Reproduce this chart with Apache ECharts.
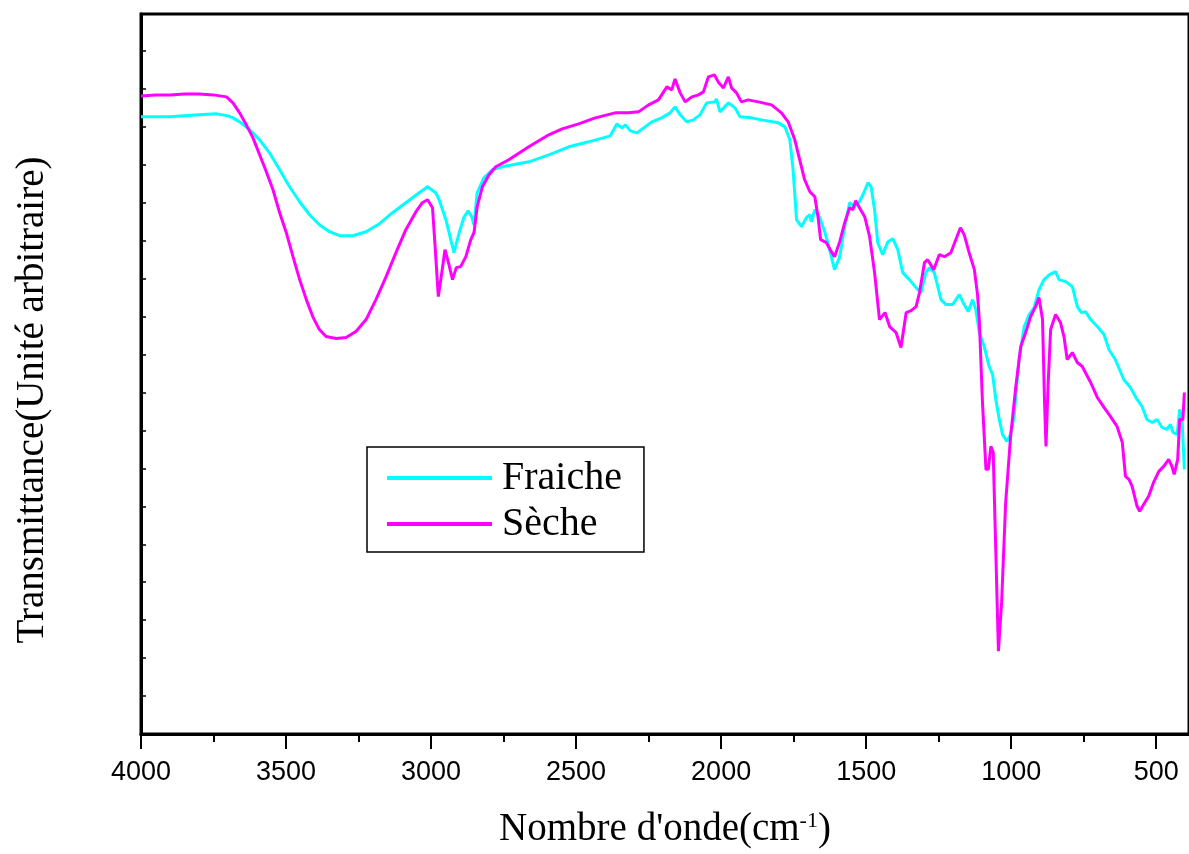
<!DOCTYPE html>
<html>
<head>
<meta charset="utf-8">
<script src="https://cdn.jsdelivr.net/npm/echarts@6/dist/echarts.min.js"></script>
<style>
  html, body { margin: 0; padding: 0; background: #fff; }
  #chart { width: 1189px; height: 854px; }
</style>
</head>
<body>
<div id="chart"></div>
<script>
// ticks de l'axe des nombres d'onde
var majorTicks = [4000, 3500, 3000, 2500, 2000, 1500, 1000, 500];
var minorTicks = [3750, 3250, 2750, 2250, 1750, 1250, 750];

// Fraiche : nombre d'onde (cm-1) / transmittance (u.a.)
var fraicheWn = [4000, 3950, 3900, 3850, 3800, 3739, 3700, 3683, 3660, 3625, 3591, 3557, 3522, 3488, 3453, 3419, 3385, 3350, 3316, 3270,
  3224, 3178, 3133, 3087, 3041, 3012, 2984, 2972, 2949, 2932, 2921, 2903, 2886, 2872, 2860, 2852, 2841, 2818, 2789, 2755,
  2663, 2594, 2525, 2457, 2382, 2359, 2342, 2330, 2313, 2290, 2267, 2239, 2205, 2176, 2159, 2141, 2119, 2096, 2073, 2050,
  2021, 2016, 2004, 1975, 1952, 1935, 1895, 1861, 1803, 1780, 1763, 1752, 1740, 1723, 1706, 1694, 1689, 1677, 1660, 1643,
  1626, 1609, 1591, 1574, 1557, 1540, 1523, 1508, 1494, 1483, 1471, 1460, 1443, 1425, 1408, 1391, 1374, 1351, 1328, 1311,
  1294, 1282, 1265, 1242, 1225, 1202, 1179, 1162, 1148, 1133, 1122, 1110, 1093, 1076, 1064, 1053, 1041, 1030, 1015, 1002,
  990, 973, 955, 938, 921, 904, 887, 868, 847, 835, 812, 789, 772, 758, 744, 726, 703, 680, 663, 641,
  612, 589, 566, 549, 532, 514, 497, 480, 463, 451, 442, 428, 419, 411, 403];
var fraicheT = [61.8, 61.8, 61.8, 61.9, 62.0, 62.1, 61.9, 61.7, 61.3, 60.5, 59.5, 58.2, 56.5, 54.8, 53.3, 52.0, 51.0, 50.3, 49.9, 49.9,
  50.3, 51.1, 52.2, 53.2, 54.2, 54.8, 54.2, 53.5, 51.5, 49.5, 48.2, 50.2, 51.8, 52.4, 51.8, 51.0, 54.2, 55.7, 56.5, 56.8,
  57.3, 58.0, 58.8, 59.3, 59.9, 61.1, 60.7, 61.0, 60.4, 60.2, 60.7, 61.3, 61.7, 62.2, 62.8, 62.0, 61.3, 61.5, 62.0, 63.2,
  63.3, 63.6, 62.3, 63.2, 62.7, 61.8, 61.7, 61.5, 61.2, 60.8, 59.5, 56.5, 51.5, 50.8, 51.7, 52.0, 51.3, 52.5, 51.7, 50.3,
  48.5, 46.5, 47.8, 50.8, 53.2, 52.8, 53.3, 54.2, 55.2, 54.8, 52.5, 49.2, 48.0, 49.3, 49.6, 48.5, 46.2, 45.5, 44.7, 44.2,
  46.2, 46.7, 46.2, 43.5, 43.0, 43.0, 44.0, 43.0, 42.3, 43.5, 42.5, 40.2, 38.8, 36.8, 36.0, 33.5, 31.5, 30.0, 29.3, 30.0,
  31.8, 37.5, 40.8, 42.0, 42.7, 44.5, 45.5, 46.0, 46.3, 45.5, 45.3, 44.8, 42.8, 42.2, 42.3, 41.5, 40.8, 40.0, 38.5, 37.5,
  35.5, 34.7, 33.5, 32.8, 31.5, 31.2, 31.5, 30.7, 30.5, 31.0, 30.2, 30.0, 32.5, 31.5, 26.5];

// Sèche
var secheWn = [4000, 3950, 3900, 3850, 3800, 3750, 3705, 3683, 3660, 3637, 3614, 3591, 3568, 3545, 3522, 3499, 3476, 3453, 3430, 3408,
  3385, 3362, 3327, 3293, 3259, 3224, 3190, 3155, 3121, 3087, 3052, 3030, 3012, 2995, 2986, 2975, 2963, 2952, 2940, 2926,
  2913, 2898, 2880, 2863, 2852, 2841, 2823, 2800, 2777, 2732, 2663, 2594, 2548, 2491, 2434, 2365, 2319, 2285, 2250, 2216,
  2187, 2170, 2159, 2141, 2124, 2101, 2078, 2061, 2044, 2023, 2010, 1992, 1975, 1964, 1947, 1930, 1907, 1872, 1826, 1792,
  1769, 1746, 1729, 1712, 1694, 1677, 1666, 1657, 1637, 1620, 1609, 1591, 1574, 1557, 1546, 1536, 1523, 1505, 1488, 1471,
  1454, 1435, 1419, 1397, 1380, 1362, 1345, 1328, 1316, 1299, 1288, 1267, 1248, 1230, 1208, 1191, 1175, 1162, 1145, 1127,
  1116, 1110, 1099, 1087, 1079, 1070, 1062, 1053, 1044, 1033, 1019, 1002, 984, 967, 950, 933, 916, 904, 892, 885,
  880, 873, 864, 847, 830, 818, 807, 789, 772, 755, 726, 703, 680, 658, 635, 617, 606, 594, 583, 566,
  557, 543, 526, 509, 491, 474, 457, 446, 438, 426, 419, 408, 403];
var secheT = [63.9, 64.0, 64.0, 64.1, 64.1, 64.0, 63.8, 63.2, 62.2, 61.0, 59.7, 58.0, 56.3, 54.5, 52.2, 50.2, 47.8, 45.5, 43.5, 41.8,
  40.5, 39.8, 39.6, 39.7, 40.3, 41.5, 43.5, 45.8, 48.2, 50.5, 52.3, 53.2, 53.5, 52.7, 48.8, 43.8, 46.2, 48.5, 47.2, 45.5,
  46.7, 46.8, 47.8, 49.5, 50.2, 52.8, 54.8, 56.0, 56.8, 57.5, 58.8, 60.0, 60.6, 61.1, 61.7, 62.2, 62.2, 62.3, 63.0, 63.5,
  64.8, 64.5, 65.6, 64.2, 63.3, 63.8, 64.0, 64.3, 65.8, 66.0, 65.3, 64.7, 65.8, 64.7, 64.2, 63.3, 63.5, 63.3, 63.0, 62.2,
  61.3, 59.5, 57.5, 55.5, 54.3, 53.8, 51.8, 49.5, 49.2, 48.3, 47.8, 49.3, 51.2, 52.7, 52.5, 53.4, 52.7, 51.8, 49.8, 46.2,
  41.5, 42.2, 40.8, 40.2, 38.7, 42.2, 42.4, 42.8, 44.2, 47.2, 47.5, 46.5, 48.0, 47.8, 48.2, 49.5, 50.7, 50.0, 48.2, 46.5,
  44.0, 41.5, 33.2, 26.5, 26.5, 28.8, 28.2, 18.2, 8.3, 13.2, 23.2, 29.8, 34.8, 38.8, 40.2, 41.8, 42.8, 43.7, 41.5, 33.2,
  28.8, 34.8, 40.5, 42.0, 41.2, 39.8, 37.5, 38.2, 37.2, 36.8, 35.2, 33.7, 32.7, 31.8, 30.8, 29.2, 25.8, 25.5, 24.8, 22.8,
  22.3, 23.0, 23.8, 25.2, 26.3, 26.8, 27.5, 26.8, 26.0, 27.5, 31.5, 31.5, 34.2];

function pairs(xs, ys) {
  return xs.map(function (x, i) { return [x, ys[i]]; });
}

var myChart = echarts.init(document.getElementById('chart'));
var serif = '"Liberation Serif", "Times New Roman", serif';
var sans = '"Liberation Sans", Arial, sans-serif';

var option = {
  animation: false,
  backgroundColor: '#fff',
  grid: {
    show: true,
    left: 141, right: -3, top: 14, bottom: 119,
    borderColor: '#000', borderWidth: 3
  },
  legend: {
    orient: 'vertical',
    left: 367, top: 447,
    padding: [11, 22, 8, 20],
    itemGap: 6,
    itemWidth: 105, itemHeight: 4,
    icon: 'rect',
    borderColor: '#000', borderWidth: 1.5,
    formatter: function (name) { return '{t|' + name + '}'; },
    textStyle: {
      color: '#000',
      rich: { t: { fontFamily: serif, fontSize: 40, lineHeight: 45, color: '#000', padding: [0, 0, 0, 5] } }
    },
    data: ['Fraiche', 'Sèche']
  },
  xAxis: [
    {
      type: 'value', position: 'bottom', inverse: true,
      min: 387, max: 4000,
      name: "{a|Nombre d'onde(cm}{s|-1}{a|)}",
      nameLocation: 'middle', nameGap: 76,
      nameTextStyle: {
        rich: {
          a: { fontFamily: serif, fontSize: 39, color: '#000' },
          s: { fontFamily: serif, fontSize: 22, color: '#000', verticalAlign: 'top' }
        }
      },
      axisLine: { show: true, lineStyle: { color: '#000', width: 3 } },
      axisTick: { show: true, length: 15, lineStyle: { color: '#000', width: 2 }, customValues: majorTicks },
      axisLabel: {
        show: true, margin: 25, fontFamily: sans, fontSize: 27, color: '#000',
        customValues: majorTicks,
        formatter: function (v) { return String(v); }
      },
      splitLine: { show: false }
    },
    {
      type: 'value', position: 'bottom', inverse: true,
      min: 387, max: 4000,
      axisLine: { show: false },
      axisTick: { show: true, length: 8, lineStyle: { color: '#000', width: 2 }, customValues: minorTicks },
      axisLabel: { show: false },
      splitLine: { show: false }
    }
  ],
  yAxis: {
    type: 'value',
    min: 0, max: 72.1, interval: 3.8,
    axisLine: { show: true, lineStyle: { color: '#000', width: 3 } },
    axisTick: { show: true, inside: true, length: 5, lineStyle: { color: '#000', width: 1.5 } },
    axisLabel: { show: false },
    splitLine: { show: false }
  },
  graphic: [
    {
      type: 'text',
      x: 33, y: 400,
      rotation: Math.PI / 2,
      style: {
        text: 'Transmittance(Unité arbitraire)',
        fontFamily: serif, fontSize: 39, fill: '#000',
        align: 'center', verticalAlign: 'middle'
      }
    }
  ],
  series: [
    {
      name: 'Fraiche', type: 'line', xAxisIndex: 0,
      symbol: 'none', showSymbol: false,
      color: '#00ffff',
      lineStyle: { width: 3, color: '#00ffff' },
      data: pairs(fraicheWn, fraicheT)
    },
    {
      name: 'Sèche', type: 'line', xAxisIndex: 0,
      symbol: 'none', showSymbol: false,
      color: '#ff00ff',
      lineStyle: { width: 3, color: '#ff00ff' },
      data: pairs(secheWn, secheT)
    }
  ]
};

myChart.clear();
myChart.setOption(option);
</script>
</body>
</html>
